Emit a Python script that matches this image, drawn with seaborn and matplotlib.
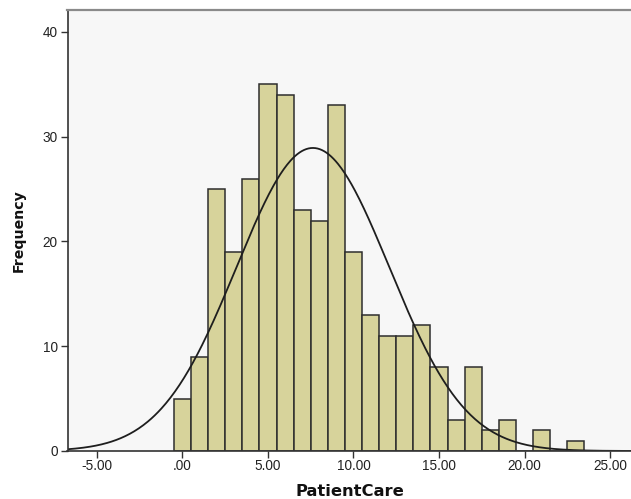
import numpy as np
import pandas as pd
import matplotlib
matplotlib.use("Agg")
import matplotlib.pyplot as plt
import seaborn as sns

# ---- data ----
bin_width = 1.0
first_bin_left = -0.5
counts = [5, 9, 25, 19, 26, 35, 34, 23, 22, 33, 19, 13, 11, 11, 12, 8, 3, 8, 2, 3, 0, 2, 0, 1]
x_ticks = [-5, 0, 5, 10, 15, 20, 25]
y_ticks = [0, 10, 20, 30, 40]
x_label = "PatientCare"
y_label = "Frequency"

sns.set_theme(style="white")
plt.rcParams['font.family'] = ['DejaVu Sans']

edges = first_bin_left + bin_width * np.arange(len(counts) + 1)
centers = (edges[:-1] + edges[1:]) / 2
df = pd.DataFrame({"value": centers, "count": counts})

fig = plt.figure(figsize=(6.31, 4.99), dpi=100)
fig.patch.set_facecolor("white")
ax = fig.add_axes([67.5 / 631, 1 - 451 / 499, 1 - 67.5 / 631 + 0.002, (451 - 10) / 499])
ax.set_facecolor("#f7f7f7")

sns.histplot(data=df, x="value", weights="count", binwidth=bin_width,
             binrange=(float(edges[0]), float(edges[-1])), ax=ax,
             color="#d7d39b", edgecolor="#2e2e2e", linewidth=1.1, alpha=1.0)

# normal curve fitted to the data
c = np.array(counts, dtype=float)
n = c.sum()
mean = (c * centers).sum() / n
std = np.sqrt((c * (centers - mean) ** 2).sum() / (n - 1))
xmin, xmax = -6.72, 26.3
xs = np.linspace(xmin, xmax, 500)
ys = n * bin_width * np.exp(-0.5 * ((xs - mean) / std) ** 2) / (std * np.sqrt(2 * np.pi))
sns.lineplot(x=xs, y=ys, ax=ax, color="#1e1e1e", linewidth=1.3)

ax.set_xlim(xmin, xmax)
ax.set_ylim(0, 42.1)

def fmt_x(v):
    s = f"{v:.2f}"
    if s.startswith("0."):
        s = s[1:]
    elif s.startswith("-0."):
        s = "-" + s[2:]
    return s

ax.set_xticks(x_ticks)
ax.set_xticklabels([fmt_x(v) for v in x_ticks], family=["Liberation Sans", "DejaVu Sans"],
                   fontsize=9.8, color="#222222")
ax.set_yticks(y_ticks)
ax.set_yticklabels([str(v) for v in y_ticks], family=["Liberation Sans", "DejaVu Sans"],
                   fontsize=9.8, color="#222222")
ax.tick_params(axis="both", direction="out", length=5, width=1, color="#333333",
               bottom=True, left=True)
ax.tick_params(axis="x", pad=1)
ax.tick_params(axis="y", pad=2)

ax.set_xlabel(x_label, fontsize=11.8, fontweight="bold", color="#111111", labelpad=8)
ax.set_ylabel(y_label, fontsize=10.2, fontweight="bold", color="#111111", labelpad=12)

for side in ["left", "bottom"]:
    ax.spines[side].set_color("#333333")
    ax.spines[side].set_linewidth(1.2)
ax.spines["top"].set_color("#8a8a8a")
ax.spines["top"].set_linewidth(1.6)
ax.spines["right"].set_visible(False)

fig.savefig("out.png", dpi=100, facecolor="white")
